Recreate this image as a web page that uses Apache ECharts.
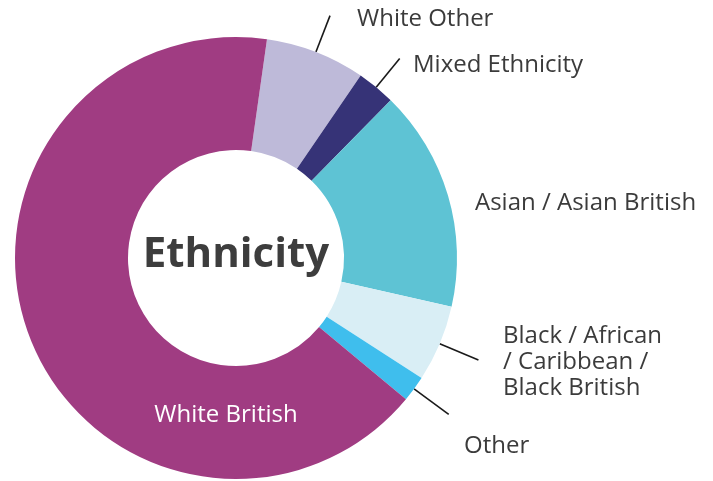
<!DOCTYPE html>
<html lang="en">
<head>
    <meta charset="utf-8" />
    <title>Ethnicity</title>
    <script src="https://cdn.jsdelivr.net/npm/echarts@6/dist/echarts.min.js"></script>
    <style>
        html, body { margin: 0; padding: 0; background: #fff; }
        #main { width: 713px; height: 481px; }
    </style>
</head>
<body>
    <div id="main"></div>
    <script type="text/javascript">
        // data (share of the ring, %)
        var categories = ['White Other', 'Mixed Ethnicity', 'Asian / Asian British',
            'Black / African\n/ Caribbean /\nBlack British', 'Other', 'White British'];
        var values = [7.3, 2.8, 16.2, 5.6, 1.9, 66.2];
        var colors = ['#bebad9', '#363377', '#5ec3d4', '#d9eef5', '#3fbeed', '#a03c82'];

        // where each label text sits (left/center x, middle y)
        var labelPos = [[357, 19], [413, 65], [475, 203], [503, 362], [464, 446], [226, 415]];
        var lineLen = [39, 37, 0, 42, 43, 0];

        var myChart = echarts.init(document.getElementById('main'));

        var pieData = categories.map(function (name, i) {
            var item = {
                name: name,
                value: values[i],
                itemStyle: { color: colors[i] },
                labelLine: { show: lineLen[i] > 0, length: lineLen[i], length2: 0 }
            };
            if (i === 5) {
                item.label = { position: 'inside', color: '#ffffff' };
            }
            return item;
        });

        var option = {
            animation: false,
            graphic: [{
                type: 'text',
                x: 236,
                y: 255,
                style: {
                    text: 'Ethnicity',
                    align: 'center',
                    verticalAlign: 'middle',
                    font: 'bold 42px "Open Sans"',
                    fill: '#3d3d3d'
                },
                z: 10
            }],
            series: [{
                type: 'pie',
                center: [236, 258],
                radius: [108, 221],
                startAngle: 81.94,
                clockwise: true,
                avoidLabelOverlap: false,
                itemStyle: { borderWidth: 0 },
                label: {
                    show: true,
                    position: 'outside',
                    fontFamily: 'Open Sans',
                    fontSize: 24,
                    lineHeight: 26,
                    color: '#3b3b3b'
                },
                labelLine: {
                    lineStyle: { color: '#1a1a1a', width: 1.6 }
                },
                labelLayout: function (p) {
                    var pos = labelPos[p.dataIndex];
                    return {
                        x: pos[0],
                        y: pos[1],
                        align: p.dataIndex === 5 ? 'center' : 'left',
                        verticalAlign: 'middle',
                        labelLinePoints: p.labelLinePoints
                    };
                },
                emphasis: { disabled: true },
                data: pieData
            }]
        };

        myChart.setOption(option);

        window.onresize = function () {
            myChart.resize();
        };
    </script>
</body>
</html>
